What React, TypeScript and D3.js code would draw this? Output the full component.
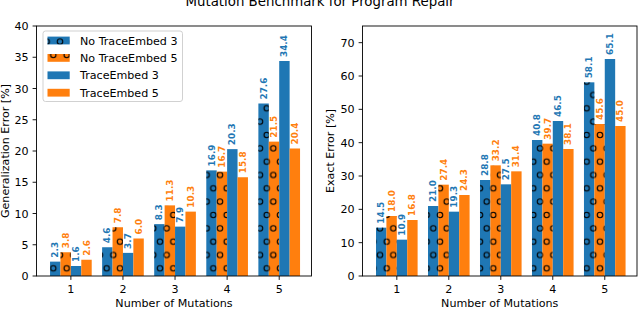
import React from "react";
import * as d3 from "d3";

const groups = [1, 2, 3, 4, 5];
const seriesNames = ["No TraceEmbed 3", "No TraceEmbed 5", "TraceEmbed 3", "TraceEmbed 5"];
const seriesColors = ["#1f77b4", "#ff7f0e", "#1f77b4", "#ff7f0e"];
const seriesHatched = [true, true, false, false];

const genNoTE3 = [2.3, 4.6, 8.3, 16.9, 27.6];
const genNoTE5 = [3.8, 7.8, 11.3, 16.7, 21.5];
const genTE3 = [1.6, 3.7, 7.9, 20.3, 34.4];
const genTE5 = [2.6, 6.0, 10.3, 15.8, 20.4];

const exNoTE3 = [14.5, 21.0, 28.8, 40.8, 58.1];
const exNoTE5 = [18.0, 27.4, 33.2, 39.7, 45.6];
const exTE3 = [10.9, 19.3, 27.5, 46.5, 65.1];
const exTE5 = [16.8, 24.3, 31.4, 38.1, 45.0];

const genTicks = [0, 5, 10, 15, 20, 25, 30, 35, 40];
const exTicks = [0, 10, 20, 30, 40, 50, 60, 70];

const title = "Mutation Benchmark for Program Repair";
const xLabel = "Number of Mutations";
const genYLabel = "Generalization Error [%]";
const exYLabel = "Exact Error [%]";

const FONT = "DejaVu Sans, sans-serif";
const offsets = [-0.3, -0.1, 0.1, 0.3];
const barW = 0.2;

type PanelProps = {
  left: number;
  right: number;
  yMax: number;
  ticks: number[];
  data: number[][];
  yLabel: string;
  yLabelX: number;
  legend: boolean;
};

function Panel({ left, right, yMax, ticks, data, yLabel, yLabelX, legend }: PanelProps) {
  const top = 26;
  const bottom = 276;
  const x = d3.scaleLinear().domain([0.34, 5.62]).range([left, right]);
  const y = d3.scaleLinear().domain([0, yMax]).range([bottom, top]);
  const bw = x(barW) - x(0);
  const cx = (left + right) / 2;
  const cy = (top + bottom) / 2;
  return (
    <g>
      {data.map((vals, si) =>
        vals.map((v, gi) => {
          const xc = x(groups[gi] + offsets[si]);
          const yt = y(v);
          return (
            <g key={`b${si}-${gi}`}>
              <rect x={xc - bw / 2} y={yt} width={bw} height={bottom - yt} fill={seriesColors[si]} />
              {seriesHatched[si] && (
                <rect x={xc - bw / 2} y={yt} width={bw} height={bottom - yt} fill="url(#hatchO)" />
              )}
            </g>
          );
        })
      )}
      {data.map((vals, si) =>
        vals.map((v, gi) => {
          const xc = x(groups[gi] + offsets[si]);
          const yt = y(v) - 4;
          return (
            <text
              key={`l${si}-${gi}`}
              transform={`translate(${xc},${yt}) rotate(-90)`}
              textAnchor="start"
              dominantBaseline="central"
              fontSize={8.89}
              fontWeight="bold"
              fill={seriesColors[si]}
              fontFamily={FONT}
            >
              {v.toFixed(1)}
            </text>
          );
        })
      )}
      <rect x={left} y={top} width={right - left} height={bottom - top} fill="none" stroke="#000" strokeWidth={0.9} />
      {ticks.map((t) => (
        <g key={`yt${t}`}>
          <line x1={left - 3.9} x2={left} y1={y(t)} y2={y(t)} stroke="#000" strokeWidth={0.9} />
          <text x={left - 7.8} y={y(t) + 4} textAnchor="end" fontSize={11.11} fontFamily={FONT} fill="#000">
            {t}
          </text>
        </g>
      ))}
      {groups.map((g) => (
        <g key={`xt${g}`}>
          <line x1={x(g)} x2={x(g)} y1={bottom} y2={bottom + 3.9} stroke="#000" strokeWidth={0.9} />
          <text x={x(g)} y={293} textAnchor="middle" fontSize={11.11} fontFamily={FONT} fill="#000">
            {g}
          </text>
        </g>
      ))}
      <text x={cx} y={307} textAnchor="middle" fontSize={11.11} fontFamily={FONT} fill="#000">
        {xLabel}
      </text>
      <text
        transform={`translate(${yLabelX},${cy}) rotate(-90)`}
        textAnchor="middle"
        fontSize={11.11}
        fontFamily={FONT}
        fill="#000"
      >
        {yLabel}
      </text>
      {legend && (
        <g>
          <rect x={43} y={31} width={139.5} height={70.5} rx={2.5} fill="#fff" fillOpacity={0.8} stroke="#cccccc" strokeWidth={0.9} />
          {seriesNames.map((n, i) => {
            const ry = 40.5 + i * 17.4;
            return (
              <g key={`lg${i}`}>
                <rect x={47.5} y={ry - 3.9} width={22.2} height={7.8} fill={seriesColors[i]} />
                {seriesHatched[i] && <rect x={47.5} y={ry - 3.9} width={22.2} height={7.8} fill="url(#hatchO)" />}
                <text x={80} y={ry + 4} fontSize={11.11} fontFamily={FONT} fill="#000">
                  {n}
                </text>
              </g>
            );
          })}
        </g>
      )}
    </g>
  );
}

export default function App() {
  const hs = 40 / 3;
  return (
    <svg
      width={640}
      height={309}
      style={{ position: "absolute", left: 0, top: 0, background: "#fff" }}
      xmlns="http://www.w3.org/2000/svg"
    >
      <defs>
        <pattern id="hatchO" patternUnits="userSpaceOnUse" x={0} y={1.67} width={hs} height={hs * 2}>
          {[
            [0, 0],
            [hs, 0],
            [0, 2 * hs],
            [hs, 2 * hs],
            [hs / 2, hs],
          ].map(([px, py], i) => (
            <circle key={i} cx={px} cy={py} r={2.67} fill="none" stroke="#000" strokeWidth={1.1} />
          ))}
        </pattern>
      </defs>
      <rect x={0} y={0} width={640} height={309} fill="#fff" />
      <text x={320} y={5.5} textAnchor="middle" fontSize={13.33} fontFamily={FONT} fill="#000">
        {title}
      </text>
      <Panel
        left={36.5}
        right={311.5}
        yMax={40}
        ticks={genTicks}
        data={[genNoTE3, genNoTE5, genTE3, genTE5]}
        yLabel={genYLabel}
        yLabelX={8.5}
        legend={true}
      />
      <Panel
        left={362.5}
        right={637}
        yMax={75}
        ticks={exTicks}
        data={[exNoTE3, exNoTE5, exTE3, exTE5]}
        yLabel={exYLabel}
        yLabelX={334}
        legend={false}
      />
    </svg>
  );
}
